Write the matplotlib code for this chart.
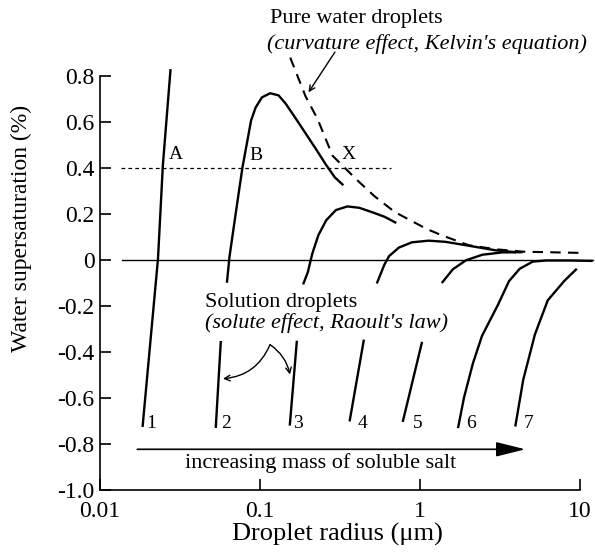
import matplotlib
matplotlib.use('Agg')
import matplotlib.pyplot as plt
from matplotlib.ticker import NullLocator

plt.rcParams['font.family'] = ['Liberation Serif', 'DejaVu Serif']
plt.rcParams['axes.unicode_minus'] = False

# droplet radius (um) and supersaturation (%)
c1_r = [0.01845, 0.02304, 0.0247, 0.0276]
c1_s = [-0.726, 0.006, 0.41, 0.83]

c2_lo_r = [0.0529, 0.0569]
c2_lo_s = [-0.73, -0.352]
c2_hi_r = [0.0621, 0.0645, 0.0728, 0.0778, 0.0827, 0.0879, 0.0939, 0.1028, 0.1157,
           0.1305, 0.1443, 0.1637, 0.1905, 0.222, 0.258, 0.293, 0.332]
c2_hi_s = [-0.099, 0.016, 0.269, 0.405, 0.505, 0.606, 0.663, 0.707, 0.725,
           0.716, 0.681, 0.625, 0.556, 0.486, 0.415, 0.36, 0.325]

c3_lo_r = [0.1535, 0.170]
c3_lo_s = [-0.72, -0.351]
c3_hi_r = [0.186, 0.199, 0.2123, 0.2317, 0.2594, 0.2979, 0.3518, 0.4168, 0.506, 0.6, 0.711]
c3_hi_s = [-0.106, -0.053, 0.028, 0.108, 0.173, 0.217, 0.233, 0.227, 0.207, 0.188, 0.161]

c4_lo_r = [0.363, 0.446]
c4_lo_s = [-0.702, -0.346]
c4_hi_r = [0.537, 0.599, 0.641, 0.738, 0.891, 1.133, 1.442, 1.833, 2.226, 2.977, 3.97]
c4_hi_s = [-0.102, -0.02, 0.017, 0.054, 0.077, 0.084, 0.079, 0.067, 0.057, 0.042, 0.034]

c5_lo_r = [0.78, 1.03]
c5_lo_s = [-0.704, -0.356]
c5_hi_r = [1.368, 1.607, 1.94, 2.457, 3.27, 4.37]
c5_hi_s = [-0.10, -0.04, -0.001, 0.023, 0.033, 0.034]

c6_r = [1.728, 1.884, 2.14, 2.44, 3.07, 3.6, 4.2, 5.07, 6.14, 8.6, 12.0]
c6_s = [-0.731, -0.598, -0.45, -0.33, -0.195, -0.092, -0.038, -0.007, -0.002, -0.002, -0.004]

c7_r = [3.94, 4.42, 5.23, 6.29, 8.0, 9.55]
c7_s = [-0.724, -0.52, -0.323, -0.175, -0.09, -0.038]

kelvin_r = [0.1545, 0.1928, 0.2286, 0.2844, 0.401, 0.516, 0.694, 1.1, 1.361, 2.02, 3.04, 4.48, 9.9]
kelvin_s = [0.88, 0.711, 0.614, 0.453, 0.35, 0.279, 0.209, 0.135, 0.108, 0.064, 0.046, 0.036, 0.031]

line04_r = [0.0135, 0.659]
line04_s = [0.40, 0.40]
zero_r = [0.0138, 12.0]
zero_s = [0.0, 0.0]

curve_labels = ['1', '2', '3', '4', '5', '6', '7']
curve_label_r = [0.021, 0.0618, 0.172, 0.438, 0.968, 2.08, 4.79]

point_labels = ['A', 'B', 'X']
point_r = [0.0296, 0.094, 0.358]
point_s = [0.459, 0.456, 0.46]

yticks = [0.8, 0.6, 0.4, 0.2, 0, -0.2, -0.4, -0.6, -0.8, -1.0]
yticklabels = ['0.8', '0.6', '0.4', '0.2', '0', '-0.2', '-0.4', '-0.6', '-0.8', '-1.0']
xticks = [0.01, 0.1, 1, 10]
xticklabels = ['0.01', '0.1', '1', '10']

fig = plt.figure(figsize=(5.95, 5.54), dpi=100)
ax = fig.add_axes([100/595, 1-490/554, 480/595, 414/554])
ax.set_xscale('log')
ax.set_xlim(0.01, 10)
ax.set_ylim(-1.0, 0.8)

for side in ['top', 'right']:
    ax.spines[side].set_visible(False)
for side in ['left', 'bottom']:
    ax.spines[side].set_linewidth(1.2)

ax.set_xticks(xticks)
ax.set_xticklabels(xticklabels)
ax.xaxis.set_minor_locator(NullLocator())
ax.set_yticks(yticks)
ax.set_yticklabels(yticklabels)
ax.tick_params(direction='in', length=8, width=1.2, labelsize=17)
ax.tick_params(axis='y', pad=4)
ax.tick_params(axis='x', pad=8)

solid = dict(color='black', lw=1.7, clip_on=False, solid_capstyle='butt',
             solid_joinstyle='round')
for r, s in [(c1_r, c1_s), (c2_lo_r, c2_lo_s), (c2_hi_r, c2_hi_s),
             (c3_lo_r, c3_lo_s), (c3_hi_r, c3_hi_s), (c4_lo_r, c4_lo_s),
             (c4_hi_r, c4_hi_s), (c5_lo_r, c5_lo_s), (c5_hi_r, c5_hi_s),
             (c6_r, c6_s), (c7_r, c7_s)]:
    ax.plot(r, s, **solid)

ax.plot(kelvin_r, kelvin_s, color='black', lw=1.5, ls=(0, (5, 3.5)), clip_on=False)
ax.plot(line04_r, line04_s, color='black', lw=0.9, ls=(0, (3, 2.5)), clip_on=False)
ax.plot(zero_r, zero_s, color='black', lw=1.0, clip_on=False)

for lab, r in zip(curve_labels, curve_label_r):
    ax.text(r, -0.71, lab, fontsize=14, ha='center', va='center')
for lab, r, s in zip(point_labels, point_r, point_s):
    ax.text(r, s, lab, fontsize=14, ha='center', va='center')

# increasing mass arrow
ax.annotate('', xy=(4.55, -0.823), xytext=(0.0171, -0.823),
            arrowprops=dict(arrowstyle='-|>,head_length=1.8,head_width=0.45',
                            mutation_scale=10, color='black', lw=1.2,
                            shrinkA=0, shrinkB=0))
ax.text(0.24, -0.883, 'increasing mass of soluble salt', fontsize=16,
        ha='center', va='center')

# solution droplet labels
ax.text(0.0456, -0.186, 'Solution droplets', fontsize=16, ha='left', va='center')
ax.text(0.0456, -0.274, "(solute effect, Raoult's law)", fontsize=16,
        style='italic', ha='left', va='center')
ax.annotate('', xy=(0.0587, -0.516), xytext=(0.1155, -0.368),
            arrowprops=dict(arrowstyle='->', color='black', lw=1.0,
                            connectionstyle='arc3,rad=-0.3', shrinkA=0, shrinkB=0))
ax.annotate('', xy=(0.154, -0.498), xytext=(0.1155, -0.368),
            arrowprops=dict(arrowstyle='->', color='black', lw=1.0,
                            connectionstyle='arc3,rad=-0.2', shrinkA=0, shrinkB=0))

# pure water label
fig.text(270/595, 0.966, 'Pure water droplets', fontsize=16, ha='left', va='center')
fig.text(267/595, 0.920, "(curvature effect, Kelvin's equation)", fontsize=16,
         style='italic', ha='left', va='center')
ax.annotate('', xy=(0.201, 0.729), xytext=(0.294, 0.904), annotation_clip=False,
            arrowprops=dict(arrowstyle='->', color='black', lw=1.0,
                            shrinkA=0, shrinkB=0))

fig.text(21/595, 1-228/554, 'Water supersaturation (%)', fontsize=17,
         rotation=90, ha='center', va='center')
fig.text(337/595, 1-534/554, 'Droplet radius (\u03bcm)', fontsize=19,
         ha='center', va='center')

fig.savefig('out.png', dpi=100)
